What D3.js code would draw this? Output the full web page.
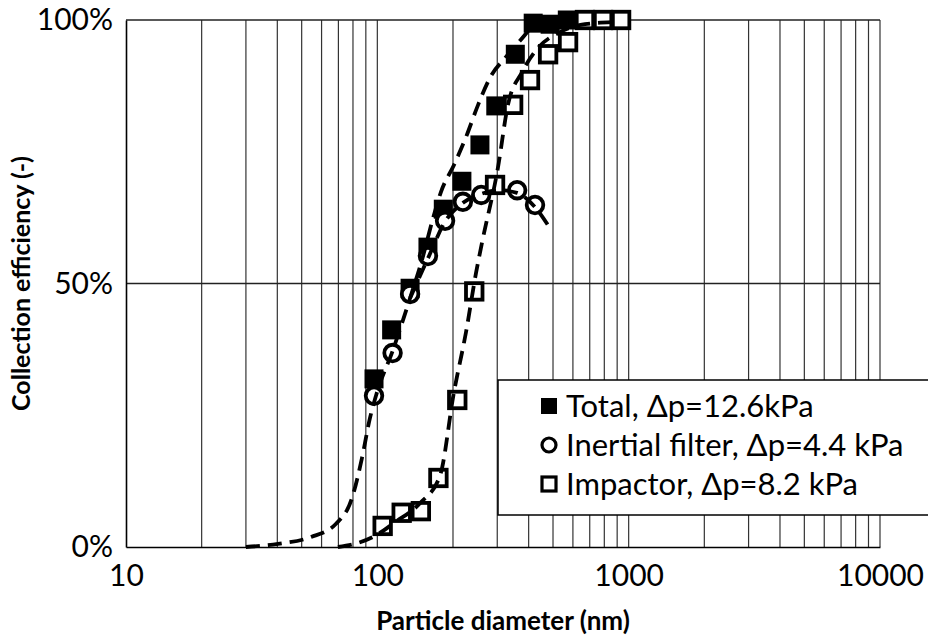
<!DOCTYPE html>
<html>
<head>
<meta charset="utf-8">
<script src="https://cdn.jsdelivr.net/npm/d3@7"></script>
<style>
  html, body { margin: 0; padding: 0; background: #fff; }
  svg { display: block; }
  text { font-family: Lato, "Noto Sans", sans-serif; fill: #000; }
</style>
</head>
<body>
<svg id="chart" width="928" height="643"></svg>
<script>
// ---- Data ----
const xTicks = [10, 100, 1000, 10000];
const xTickLabels = ["10", "100", "1000", "10000"];
const yTicks = [0, 0.5, 1];
const yTickLabels = ["0%", "50%", "100%"];

const totalX = [97, 114, 135, 159, 183, 217, 256, 296, 354, 417, 487, 570];
const totalY = [0.319, 0.412, 0.491, 0.569, 0.641, 0.694, 0.763, 0.837, 0.935, 0.994, 0.992, 1.0];

const inertialX = [97, 115, 135, 159, 186, 219, 259, 360, 424];
const inertialY = [0.287, 0.368, 0.480, 0.552, 0.619, 0.655, 0.668, 0.677, 0.649];

const impactorX = [105, 125, 149, 175, 208, 243, 294, 347, 405, 478, 574, 670, 791, 933];
const impactorY = [0.040, 0.065, 0.068, 0.131, 0.279, 0.485, 0.687, 0.839, 0.886, 0.935, 0.958, 1.0, 1.0, 1.0];

// fitted (dashed) curves
const totalFitX = [30, 40.3, 54.5, 68.5, 79.3, 86.9, 93.5, 98.9, 115.4, 134.9, 150.6, 166.6, 179.2, 201.8, 225.4, 251.7, 283.4, 322.3, 387, 424];
const totalFitY = [0, 0.006, 0.019, 0.044, 0.093, 0.169, 0.245, 0.288, 0.374, 0.472, 0.545, 0.624, 0.674, 0.725, 0.778, 0.839, 0.894, 0.928, 0.972, 0.996];

const inertialFitX = [134.9, 159.1, 185.8, 219.2, 258.4, 307.6, 359.5, 424, 486.3];
const inertialFitY = [0.472, 0.548, 0.617, 0.653, 0.670, 0.677, 0.672, 0.645, 0.605];

const impactorFitX = [69.7, 81.5, 97.9, 117.6, 147.8, 177.5, 201.8, 225.4, 247, 260.8, 301.7, 330.9, 376.5, 435.8, 533, 670, 858];
const impactorFitY = [0, 0.006, 0.021, 0.047, 0.083, 0.135, 0.294, 0.408, 0.52, 0.577, 0.719, 0.839, 0.901, 0.947, 0.977, 0.992, 0.996];

const legendLabels = ["Total, \u0394p=12.6kPa", "Inertial filter, \u0394p=4.4 kPa", "Impactor, \u0394p=8.2 kPa"];
const xTitle = "Particle diameter (nm)";
const yTitle = "Collection efficiency (-)";

// ---- Layout ----
const svg = d3.select("#chart");
const m = { left: 126, right: 880, top: 20, bottom: 547 };

const x = d3.scaleLog().domain([10, 10000]).range([m.left, m.right]);
const y = d3.scaleLinear().domain([0, 1]).range([m.bottom, m.top]);

const zip = (a, b) => a.map((v, i) => [v, b[i]]);

// vertical grid lines (minor + major)
const gridX = [];
for (let d = 10; d < 10000; d *= 10) for (let k = 1; k <= 9; k++) gridX.push(d * k);
gridX.push(10000);

const g = svg.append("g");
g.selectAll("line.vg").data(gridX.filter(v => v > 10)).enter().append("line")
  .attr("x1", d => x(d)).attr("x2", d => x(d))
  .attr("y1", y(0)).attr("y2", y(1))
  .attr("stroke", "#333").attr("stroke-width", 1.2);

g.selectAll("line.hg").data([0.5, 1]).enter().append("line")
  .attr("x1", x(10)).attr("x2", x(10000))
  .attr("y1", d => y(d)).attr("y2", d => y(d))
  .attr("stroke", "#222").attr("stroke-width", 1.3);

// axes
const xAxis = d3.axisBottom(x).tickValues(xTicks).tickFormat((d, i) => xTickLabels[i]).tickSize(0).tickPadding(20);
const yAxis = d3.axisLeft(y).tickValues(yTicks).tickFormat((d, i) => yTickLabels[i]).tickSize(0).tickPadding(13);

const gx = svg.append("g").attr("transform", `translate(0,${y(0)})`).call(xAxis);
gx.select(".domain").attr("stroke", "#000").attr("stroke-width", 1.6);
gx.selectAll("text").style("font-size", "30px").attr("dy", "0.62em");

const gy = svg.append("g").attr("transform", `translate(${x(10)},0)`).call(yAxis);
gy.select(".domain").attr("stroke", "#000").attr("stroke-width", 1.6);
gy.selectAll("text").style("font-size", "30px");

// axis titles
svg.append("text").attr("x", (m.left + m.right) / 2).attr("y", 630)
  .attr("text-anchor", "middle").style("font-size", "26px").style("font-weight", "bold").text(xTitle);
svg.append("text").attr("transform", `translate(30,${(m.top + m.bottom) / 2}) rotate(-90)`)
  .attr("text-anchor", "middle").style("font-size", "25px").style("font-weight", "bold").text(yTitle);

// markers
const S = 19;
const pts = svg.append("g");
pts.selectAll("rect.total").data(zip(totalX, totalY)).enter().append("rect")
  .attr("x", d => x(d[0]) - S / 2).attr("y", d => y(d[1]) - S / 2)
  .attr("width", S).attr("height", S).attr("fill", "#000");

pts.selectAll("circle.inertial").data(zip(inertialX, inertialY)).enter().append("circle")
  .attr("cx", d => x(d[0])).attr("cy", d => y(d[1])).attr("r", 8.3)
  .attr("fill", "#fff").attr("stroke", "#000").attr("stroke-width", 3.8);

const So = 16.5;
pts.selectAll("rect.imp").data(zip(impactorX, impactorY)).enter().append("rect")
  .attr("x", d => x(d[0]) - So / 2).attr("y", d => y(d[1]) - So / 2)
  .attr("width", So).attr("height", So)
  .attr("fill", "#fff").attr("stroke", "#000").attr("stroke-width", 3.8);

// fitted dashed curves
const line = d3.line().x(d => x(d[0])).y(d => y(d[1])).curve(d3.curveMonotoneX);
[[totalFitX, totalFitY], [inertialFitX, inertialFitY], [impactorFitX, impactorFitY]].forEach(([fx, fy]) => {
  svg.append("path").datum(zip(fx, fy)).attr("d", line)
    .attr("fill", "none").attr("stroke", "#000").attr("stroke-width", 3.8)
    .attr("stroke-dasharray", "14,8");
});

// legend
const lg = svg.append("g");
lg.append("rect").attr("x", 498).attr("y", 380).attr("width", 432).attr("height", 135)
  .attr("fill", "#fff").attr("stroke", "#000").attr("stroke-width", 1.5);
const rowsY = [406, 445, 484];
const mx = 549;
lg.append("rect").attr("x", mx - 8).attr("y", rowsY[0] - 8).attr("width", 16).attr("height", 16).attr("fill", "#000");
lg.append("circle").attr("cx", mx).attr("cy", rowsY[1]).attr("r", 7)
  .attr("fill", "#fff").attr("stroke", "#000").attr("stroke-width", 3.2);
lg.append("rect").attr("x", mx - 7).attr("y", rowsY[2] - 7).attr("width", 14).attr("height", 14)
  .attr("fill", "#fff").attr("stroke", "#000").attr("stroke-width", 3.2);
lg.selectAll("text.leg").data(legendLabels).enter().append("text")
  .attr("x", 566).attr("y", (d, i) => rowsY[i]).attr("dy", "0.36em")
  .style("font-size", "31px").text(d => d);
</script>
</body>
</html>
